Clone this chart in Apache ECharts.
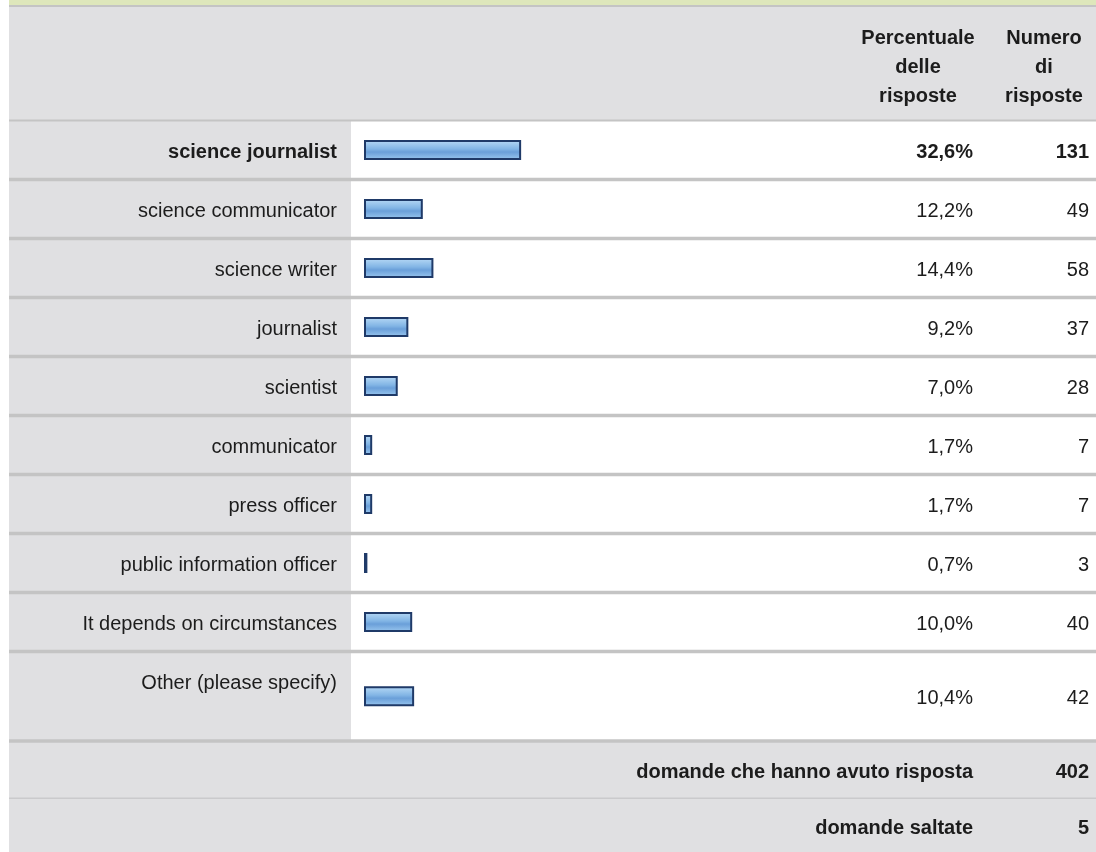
<!DOCTYPE html>
<html>
<head>
<meta charset="utf-8">
<script src="https://cdn.jsdelivr.net/npm/echarts@6/dist/echarts.min.js"></script>
<style>
  html, body { margin: 0; padding: 0; background: #fff; }
  #chart { width: 1096px; height: 852px; }
</style>
</head>
<body>
<div id="chart"></div>
<script>
// dati della domanda
const categories = [
  'science journalist',
  'science communicator',
  'science writer',
  'journalist',
  'scientist',
  'communicator',
  'press officer',
  'public information officer',
  'It depends on circumstances',
  'Other (please specify)'
];
const percents = [32.6, 12.2, 14.4, 9.2, 7.0, 1.7, 1.7, 0.7, 10.0, 10.4];
const counts = [131, 49, 58, 37, 28, 7, 7, 3, 40, 42];
const headerPct = ['Percentuale', 'delle', 'risposte'];
const headerCount = ['Numero', 'di', 'risposte'];
const summaryLabels = ['domande che hanno avuto risposta', 'domande saltate'];
const summaryValues = [402, 5];

// layout
const FONT = "'Liberation Sans', Arial, sans-serif";
const FS = 20;
const TXT = '#1c1c1c';
const GRAY = '#e0e0e2';
const LINE = '#c4c4c4';
const LEFT = 9, RIGHT = 1096, LABEL_COL = 351;
const BAR_X = 364, BAR_W = 482;
const TOP = 120.5, ROW = 59, OTHER_ROW = 89.5;
const PCT_X = 973, CNT_X = 1089, PCT_C = 918, CNT_C = 1044;
const nMain = 9;
const tableEnd = TOP + nMain * ROW + OTHER_ROW;

const fmtPct = v => v.toFixed(1).replace('.', ',') + '%';
const pctLabels = percents.map(fmtPct);
const cntLabels = counts.map(String);

const chart = echarts.init(document.getElementById('chart'));

const boldRich = { b: { fontWeight: 'bold', fontSize: FS, fontFamily: FONT, color: TXT } };
const baseLabel = { fontSize: FS, fontFamily: FONT, color: TXT, interval: 0, rich: boldRich };
const hidden = { axisLine: { show: false }, axisTick: { show: false }, splitLine: { show: false } };

function yAxes(gridIndex, start, end, otherRow) {
  // la riga "Other" ha l'etichetta in alto
  const padLeft = otherRow ? [0, 0, 26, 0] : [4, 0, 0, 0];
  const pad = otherRow ? [4, 0, 0, 0] : [4, 0, 0, 0];
  const bold = (v, i) => (start + i === 0 ? '{b|' + v + '}' : v);
  return [
    Object.assign({
      type: 'category', gridIndex, inverse: true,
      data: categories.slice(start, end),
      axisLabel: Object.assign({}, baseLabel, { margin: BAR_X - 337, padding: padLeft, formatter: bold })
    }, hidden),
    Object.assign({
      type: 'category', gridIndex, inverse: true, position: 'right',
      data: pctLabels.slice(start, end),
      axisLabel: Object.assign({}, baseLabel, { align: 'right', padding: pad, margin: PCT_X - (BAR_X + BAR_W), formatter: bold })
    }, hidden),
    Object.assign({
      type: 'category', gridIndex, inverse: true, position: 'right',
      data: cntLabels.slice(start, end),
      axisLabel: Object.assign({}, baseLabel, { align: 'right', padding: pad, margin: CNT_X - (BAR_X + BAR_W), formatter: bold })
    }, hidden)
  ];
}

const barStyle = {
  color: new echarts.graphic.LinearGradient(0, 0, 0, 1, [
    { offset: 0, color: '#b8daf6' },
    { offset: 0.45, color: '#82b5e5' },
    { offset: 0.6, color: '#6a9fd9' },
    { offset: 1, color: '#9bc8ef' }
  ]),
  borderColor: '#1f3a68',
  borderWidth: 2
};

// sfondo tabella
const bg = [
  { type: 'rect', shape: { x: LEFT, y: 0, width: RIGHT - LEFT, height: 5 }, style: { fill: '#dee7bb' } },
  { type: 'rect', shape: { x: LEFT, y: 5, width: RIGHT - LEFT, height: 2 }, style: { fill: LINE } },
  { type: 'rect', shape: { x: LEFT, y: 7, width: RIGHT - LEFT, height: TOP - 7 }, style: { fill: GRAY } },
  { type: 'rect', shape: { x: LEFT, y: TOP, width: LABEL_COL - LEFT, height: tableEnd - TOP }, style: { fill: GRAY } },
  { type: 'rect', shape: { x: LEFT, y: tableEnd, width: RIGHT - LEFT, height: 852 - tableEnd }, style: { fill: GRAY } }
];
const bounds = [];
for (let k = 0; k <= nMain; k++) bounds.push(TOP + k * ROW);
bounds.push(tableEnd);
bounds.forEach((y, k) => {
  const h = k === 0 ? 2 : 3.5;
  bg.push({ type: 'rect', shape: { x: LEFT, y: y - h / 2, width: RIGHT - LEFT, height: h }, style: { fill: LINE } });
});
const sumRow = (852 - tableEnd) / 2;
bg.push({ type: 'rect', shape: { x: LEFT, y: tableEnd + sumRow + 1, width: RIGHT - LEFT, height: 1.5 }, style: { fill: '#cacacc' } });
bg.forEach(e => { e.z = -10; e.silent = true; });

// testi intestazione e riepilogo
const boldFont = 'bold ' + FS + 'px ' + FONT;
const texts = [
  { type: 'text', x: PCT_C, y: 67, style: { text: headerPct.join('\n'), align: 'center', verticalAlign: 'middle', lineHeight: 29, font: boldFont, fill: TXT } },
  { type: 'text', x: CNT_C, y: 67, style: { text: headerCount.join('\n'), align: 'center', verticalAlign: 'middle', lineHeight: 29, font: boldFont, fill: TXT } }
];
summaryLabels.forEach((s, i) => {
  const y = tableEnd + sumRow * (i + 0.5) + 4;
  texts.push({ type: 'text', x: PCT_X, y, style: { text: s, align: 'right', verticalAlign: 'middle', font: boldFont, fill: TXT } });
  texts.push({ type: 'text', x: CNT_X, y, style: { text: String(summaryValues[i]), align: 'right', verticalAlign: 'middle', font: boldFont, fill: TXT } });
});

const option = {
  animation: false,
  graphic: bg.concat(texts),
  grid: [
    { left: BAR_X, top: TOP, width: BAR_W, height: nMain * ROW },
    { left: BAR_X, top: TOP + nMain * ROW, width: BAR_W, height: OTHER_ROW }
  ],
  xAxis: [
    { type: 'value', gridIndex: 0, min: 0, max: 100, show: false },
    { type: 'value', gridIndex: 1, min: 0, max: 100, show: false }
  ],
  yAxis: yAxes(0, 0, nMain, false).concat(yAxes(1, nMain, categories.length, true)),
  series: [
    {
      name: 'Percentuale', type: 'bar', xAxisIndex: 0, yAxisIndex: 0,
      data: percents.slice(0, nMain), barWidth: 20, itemStyle: barStyle
    },
    {
      name: 'Percentuale', type: 'bar', xAxisIndex: 1, yAxisIndex: 3,
      data: percents.slice(nMain), barWidth: 20, itemStyle: barStyle
    }
  ]
};

chart.setOption(option);
window.addEventListener('resize', () => chart.resize());
</script>
</body>
</html>
